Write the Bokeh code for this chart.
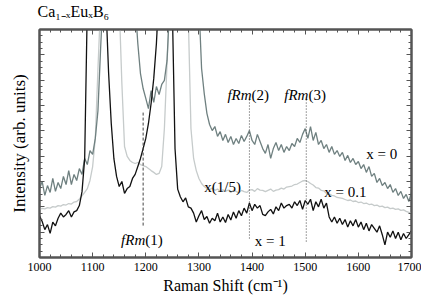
from bokeh.plotting import figure
from bokeh.models import LinearAxis, SingleIntervalTicker, Range1d, CustomLabelingPolicy, Label
from bokeh.embed import file_html
from bokeh.resources import INLINE

# Raman shift (cm^-1)
shift = list(range(1000, 1705, 5))

# x = 0 (CaB6), grey
int_x0 = [
    2.72, 3.00, 2.45, 2.84, 2.57, 3.12, 2.61, 2.96, 2.72, 3.20,
    2.88, 3.43, 2.88, 3.28, 3.04, 3.51, 3.28, 3.91, 3.67, 4.22,
    4.07, 4.70, 5.80, 8.25, 10.5, 14, 14, 14, 14, 14,
    14, 14, 14, 14, 14, 14, 10.0, 8.45, 7.26, 6.67,
    6.28, 5.88, 6.59, 6.12, 6.75, 6.43, 6.83, 6.99, 7.78, 10.0,
    14, 14, 14, 14, 14, 14, 14, 14, 14, 14,
    10.0, 7.46, 6.47, 5.69, 5.25, 5.01, 5.17, 4.78, 4.97, 4.62,
    4.86, 4.54, 4.78, 4.46, 4.70, 4.50, 4.82, 4.58, 4.78, 5.01,
    4.62, 4.46, 4.86, 4.58, 4.30, 4.11, 4.46, 3.91, 4.30, 4.54,
    4.22, 4.46, 4.15, 4.38, 4.22, 4.50, 4.38, 4.70, 4.54, 4.86,
    5.09, 4.70, 5.17, 4.62, 4.94, 4.46, 4.62, 4.30, 4.46, 4.15,
    4.38, 4.07, 4.22, 3.99, 4.15, 3.83, 4.03, 3.75, 3.91, 3.67,
    3.79, 3.51, 3.67, 3.36, 3.59, 3.20, 3.32, 2.96, 3.12, 2.84,
    2.96, 2.72, 2.88, 2.57, 2.72, 2.45, 2.61, 2.33, 2.49, 2.21,
    2.57,
]

# x = 0.1, light grey (scaled x(1/5))
int_x01 = [
    1.90, 1.94, 1.92, 1.97, 1.95, 2.01, 1.99, 2.05, 2.03, 2.09,
    2.07, 2.13, 2.11, 2.19, 2.21, 2.31, 2.43, 2.57, 2.72, 3.04,
    3.59, 4.70, 7.46, 10.0, 14, 14, 14, 14, 14, 14,
    10.0, 6.87, 4.38, 3.99, 3.83, 3.75, 3.71, 3.75, 3.67, 3.63,
    3.59, 3.51, 3.43, 3.36, 3.28, 3.32, 3.59, 5.09, 7.66, 10.0,
    14, 14, 14, 14, 14, 12, 9.5, 5.09, 3.91, 3.43,
    3.12, 2.92, 2.80, 2.72, 2.68, 2.74, 2.65, 2.70, 2.61, 2.67,
    2.61, 2.66, 2.57, 2.65, 2.61, 2.55, 2.65, 2.60, 2.57, 2.66,
    2.68, 2.61, 2.72, 2.66, 2.65, 2.60, 2.65, 2.70, 2.61, 2.66,
    2.68, 2.74, 2.70, 2.78, 2.80, 2.82, 2.88, 2.90, 2.96, 3.02,
    3.04, 3.00, 2.92, 2.86, 2.76, 2.74, 2.65, 2.63, 2.53, 2.51,
    2.45, 2.43, 2.37, 2.35, 2.33, 2.29, 2.25, 2.27, 2.21, 2.23,
    2.17, 2.19, 2.13, 2.15, 2.09, 2.11, 2.05, 2.07, 2.01, 2.03,
    1.97, 1.99, 1.93, 1.95, 1.90, 1.92, 1.86, 1.88, 1.82, 1.78,
    1.74,
]

# x = 1 (EuB6), black
int_x1 = [
    1.65, 1.42, 1.10, 1.30, 0.95, 1.40, 1.25, 1.55, 1.75, 1.60,
    1.70, 1.85, 1.60, 1.80, 1.85, 2.05, 2.60, 3.90, 10.0, 14,
    14, 14, 14, 14, 14, 10.0, 7.30, 5.30, 3.90, 3.20,
    2.80, 3.00, 2.53, 2.72, 2.80, 3.12, 3.28, 3.59, 3.91, 4.30,
    4.70, 5.29, 6.08, 7.07, 8.45, 10.5, 14, 14, 14, 14,
    9.8, 4.3, 2.7, 2.4, 2.2, 2.35, 2.0, 1.95, 1.75, 1.40,
    1.65, 1.85, 1.50, 1.62, 1.35, 1.55, 1.45, 1.75, 1.40, 1.60,
    1.38, 1.70, 1.48, 1.80, 1.55, 1.85, 1.65, 1.95, 1.75, 2.15,
    1.85, 2.10, 1.95, 2.05, 1.70, 1.65, 1.80, 1.90, 1.72, 2.00,
    1.85, 2.15, 1.95, 2.05, 2.10, 1.95, 2.20, 2.05, 2.25, 1.90,
    2.25, 2.10, 2.30, 1.85, 2.20, 2.00, 2.30, 1.95, 2.15, 1.60,
    1.40, 1.60, 1.35, 1.55, 1.30, 1.50, 1.20, 1.45, 1.25, 1.50,
    1.20, 1.40, 1.10, 1.35, 1.05, 1.30, 1.15, 1.00, 1.25, 0.90,
    0.50, 1.00, 0.80, 1.05, 0.75, 1.00, 0.70, 0.95, 0.75, 0.90,
    1.05,
]

# fRm mode positions (cm^-1)
frm_pos = [1195, 1395, 1502]
frm_names = ["(1)", "(2)", "(3)"]

FONT = "Liberation Serif"
AXC = "#555555"

p = figure(frame_width=372, frame_height=228, x_range=Range1d(1000, 1700), y_range=Range1d(0, 9),
           output_backend="svg", toolbar_location=None,
           min_border_left=39, min_border_right=10, min_border_top=23, min_border_bottom=41)
p.grid.visible = False
p.outline_line_color = AXC
p.outline_line_width = 2
p.background_fill_color = "white"
p.border_fill_color = "white"

# compound name as the plot title
p.title.text = "Ca\u2081\u208b\u2093Eu\u2093B\u2086"
p.title.text_font = FONT
p.title.text_font_size = "16px"
p.title.text_font_style = "normal"
p.title.text_color = "black"
p.title.align = "left"
p.title.offset = -2
p.title.standoff = 0

xt = SingleIntervalTicker(interval=100, num_minor_ticks=5)
yt = SingleIntervalTicker(interval=1, num_minor_ticks=4)

bottom = p.below[0]
left = p.left[0]
bottom.ticker = xt
left.ticker = yt

top = LinearAxis(ticker=xt)
right = LinearAxis(ticker=yt)
p.add_layout(top, "above")
p.add_layout(right, "right")

no_labels = CustomLabelingPolicy(code="""
    for (const i of indices)
        indices.unset(i)
    return indices
""")

for ax in [bottom, left, top, right]:
    ax.major_tick_in = 5
    ax.major_tick_out = 0
    ax.minor_tick_in = 3
    ax.minor_tick_out = 0
    ax.axis_line_color = AXC
    ax.axis_line_width = 2
    ax.major_tick_line_color = AXC
    ax.minor_tick_line_color = AXC
    ax.major_label_text_font = FONT
    ax.major_label_text_color = "black"
    ax.axis_label_text_font = FONT
    ax.axis_label_text_font_style = "normal"
    ax.axis_label_text_color = "black"

for ax in [left, top, right]:
    ax.major_label_policy = no_labels
    ax.major_label_standoff = 0

bottom.major_label_text_font_size = "12px"
bottom.major_label_standoff = 5
bottom.axis_label = "Raman Shift (cm\u207b\u00b9)"
bottom.axis_label_text_font_size = "16px"
bottom.axis_label_standoff = 3
left.axis_label = "Intensity (arb. units)"
left.axis_label_text_font_size = "17px"
left.axis_label_standoff = 2

p.line(shift, int_x01, line_color="#c6cbcb", line_width=1.3)
p.line(shift, int_x0, line_color="#6f8080", line_width=1.3)
p.line(shift, int_x1, line_color="#111111", line_width=1.3)

# fRm marker lines
p.segment(x0=[frm_pos[0]], y0=[1.26], x1=[frm_pos[0]], y1=[5.8],
          line_color="#444444", line_width=1, line_dash="3 2")
p.segment(x0=frm_pos[1:], y0=[0.75, 0.63], x1=frm_pos[1:], y1=[6.28, 6.28],
          line_color="#444444", line_width=1, line_dash="1 2")

def lab(x, y, t, size="15px", align="left", style="normal"):
    p.add_layout(Label(x=x, y=y, text=t, text_font=FONT, text_font_size=size,
                       text_align=align, text_baseline="alphabetic",
                       text_font_style=style, text_color="black"))

frm_y = [0.71, 6.4, 6.4]
for pos, name, yy in zip(frm_pos, frm_names, frm_y):
    lab(pos + 4, yy, "fRm", align="right", style="italic")
    lab(pos + 4, yy, name, align="left")

lab(1615, 4.07, "x = 0")
lab(1536, 2.57, "x = 0.1")
lab(1310, 2.8, "x(1/5)")
lab(1405, 0.67, "x = 1")

open("out.html", "w").write(file_html(p, INLINE))
